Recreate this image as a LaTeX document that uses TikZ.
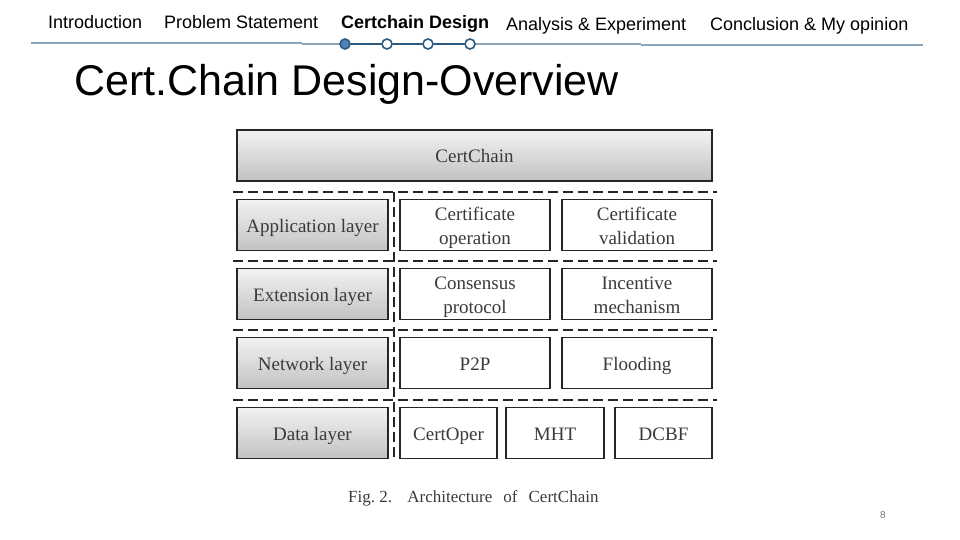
\documentclass[tikz,border=0pt]{standalone}
\usepackage{fontspec}
\setmainfont{Liberation Sans}
\newfontfamily\figserif{Liberation Serif}
\newcommand\bstrut{\rule[-4.7pt]{0pt}{24pt}}
\definecolor{navline}{HTML}{8EA5B8}
\definecolor{dotfill}{HTML}{4F81BD}
\definecolor{dotedge}{HTML}{2E5A80}
\definecolor{boxtext}{HTML}{3A3A3A}
\tikzset{
  navtext/.style={anchor=base west, inner sep=0pt, font=\fontsize{18}{20}\selectfont},
  box/.style={draw=black!85, line width=1.8pt, inner sep=0pt, text=boxtext,
    font=\figserif\fontsize{19}{24}\selectfont, align=center},
  graybox/.style={box, top color=black!5, bottom color=black!24},
  whitebox/.style={box, fill=white},
  sep/.style={draw=black!85, line width=1.5pt, dash pattern=on 10pt off 5pt},
  navdot/.style={circle, minimum size=10pt, inner sep=0pt, line width=1.6pt, draw=dotedge, fill=white},
}
\begin{document}
\begin{tikzpicture}[x=1pt,y=-1pt]
\useasboundingbox (0,0) rectangle (960,540);
% header
\node[navtext] (n1) at (48,29) {Introduction};
\node[navtext] (n2) at (164,29) {Problem Statement};
\node[navtext, font=\fontsize{18}{20}\selectfont\bfseries] (n3) at (341,29) {Certchain Design};
\node[navtext] (n4) at (506,31) {Analysis \& Experiment};
\node[navtext] (n5) at (710,31) {Conclusion \& My opinion};
\coordinate (l0) at (31,43);
\coordinate (l1) at (302,43);
\coordinate (l2) at (302,44);
\coordinate (l3) at (641,44);
\coordinate (l4) at (641,45);
\coordinate (l5) at (923,45);
\draw[navline, line width=1.2pt] (l0) -- (l1);
\draw[navline, line width=1.2pt] (l2) -- (l3);
\draw[navline, line width=1.2pt] (l4) -- (l5);
\node[navdot, fill=dotfill] (d1) at (345,44) {};
\node[navdot] (d2) at (387,44) {};
\node[navdot] (d3) at (428,44) {};
\node[navdot] (d4) at (470,44) {};
\draw[dotedge, line width=1.4pt] (d1) -- (d2) (d2) -- (d3) (d3) -- (d4);
% title
\node[anchor=base west, inner sep=0pt, font=\fontsize{43}{46}\selectfont] (title) at (74,96) {Cert.Chain Design-Overview};
% diagram
\node[graybox, minimum width=475pt, minimum height=51pt] (top) at (474.5,155.5) {\bstrut CertChain};
% separators
\coordinate (h1a) at (233,192); \coordinate (h1b) at (717,192);
\coordinate (h2a) at (233,261); \coordinate (h2b) at (717,261);
\coordinate (h3a) at (233,330); \coordinate (h3b) at (717,330);
\coordinate (h4a) at (233,400); \coordinate (h4b) at (717,400);
\coordinate (va) at (394,192); \coordinate (vb) at (394,461);
\draw[sep] (h1a) -- (h1b);
\draw[sep] (h2a) -- (h2b);
\draw[sep] (h3a) -- (h3b);
\draw[sep] (h4a) -- (h4b);
\draw[sep] (va) -- (vb);
% row 1
\node[graybox, minimum width=151pt, minimum height=51pt] (app) at (312.5,225) {\bstrut Application layer};
\node[whitebox, minimum width=150pt, minimum height=51pt] (certop) at (475,225) {\bstrut Certificate\\\bstrut operation};
\node[whitebox, minimum width=150pt, minimum height=51pt] (certval) at (637,225) {\bstrut Certificate\\\bstrut validation};
% row 2
\node[graybox, minimum width=151pt, minimum height=51pt] (ext) at (312.5,294) {\bstrut Extension layer};
\node[whitebox, minimum width=150pt, minimum height=51pt] (cons) at (475,294) {\bstrut Consensus\\\bstrut protocol};
\node[whitebox, minimum width=150pt, minimum height=51pt] (inc) at (637,294) {\bstrut Incentive\\\bstrut mechanism};
% row 3
\node[graybox, minimum width=151pt, minimum height=51pt] (net) at (312.5,363) {\bstrut Network layer};
\node[whitebox, minimum width=150pt, minimum height=51pt] (p2p) at (475,363) {\bstrut P2P};
\node[whitebox, minimum width=150pt, minimum height=51pt] (flood) at (637,363) {\bstrut Flooding};
% row 4
\node[graybox, minimum width=151pt, minimum height=51pt] (data) at (312.5,433) {\bstrut Data layer};
\node[whitebox, minimum width=97pt, minimum height=51pt] (coper) at (448.5,433) {\bstrut CertOper};
\node[whitebox, minimum width=98pt, minimum height=51pt] (mht) at (555,433) {\bstrut MHT};
\node[whitebox, minimum width=97pt, minimum height=51pt] (dcbf) at (663.5,433) {\bstrut DCBF};
% caption
\node[anchor=base west, inner sep=0pt, text=boxtext, font=\figserif\fontsize{17}{19}\selectfont] (cap) at (348,502) {Fig.~2.\hspace{0.9em}Architecture\hspace{0.4em} of\hspace{0.4em} CertChain};
% page number
\node[inner sep=0pt, text=black!55, font=\fontsize{10}{12}\selectfont] (pg) at (883,515) {8};
\end{tikzpicture}
\end{document}
